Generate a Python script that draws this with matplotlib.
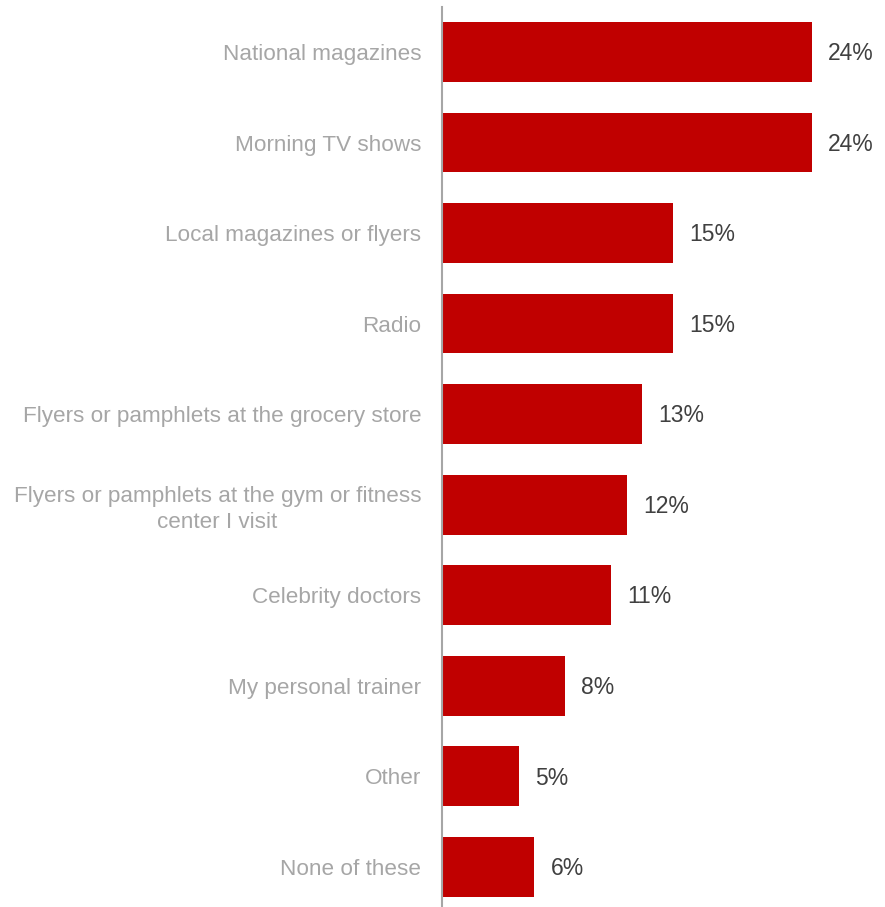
import matplotlib
matplotlib.use("Agg")
import matplotlib.pyplot as plt

categories = [
    "National magazines",
    "Morning TV shows",
    "Local magazines or flyers",
    "Radio",
    "Flyers or pamphlets at the grocery store",
    "Flyers or pamphlets at the gym or fitness\ncenter I visit",
    "Celebrity doctors",
    "My personal trainer",
    "Other",
    "None of these",
]
values = [24, 24, 15, 15, 13, 12, 11, 8, 5, 6]
value_labels = ["24%", "24%", "15%", "15%", "13%", "12%", "11%", "8%", "5%", "6%"]

plt.rcParams["font.family"] = ["Liberation Sans", "DejaVu Sans"]

W, H = 885, 907
fig = plt.figure(figsize=(W / 100, H / 100), dpi=100)
ax = fig.add_axes([442 / W, -0.0055, 430.5 / W, 0.998])

pos = list(range(len(categories)))
ax.barh(pos, values, height=0.66, color="#C00000")
ax.set_ylim(len(categories) - 0.5, -0.5)
ax.set_xlim(0, 27.95)

for p, v, lab in zip(pos, values, value_labels):
    ax.text(v + 1.05, p + 0.02, lab, va="center", ha="left", fontsize=16.5, color="#404040")

ax.set_yticks(pos)
ax.set_yticklabels(categories, fontsize=16.2, color="#A6A6A6")
for lbl in ax.get_yticklabels():
    lbl.set_horizontalalignment("right")
    lbl.set_multialignment("center")
    lbl.set_linespacing(1.3)
ax.tick_params(axis="y", length=0, pad=15)
ax.set_xticks([])

for s in ["top", "right", "bottom"]:
    ax.spines[s].set_visible(False)
ax.spines["left"].set_color("#A6A6A6")
ax.spines["left"].set_linewidth(1.5)

fig.savefig("out.png", dpi=100, facecolor="white")
